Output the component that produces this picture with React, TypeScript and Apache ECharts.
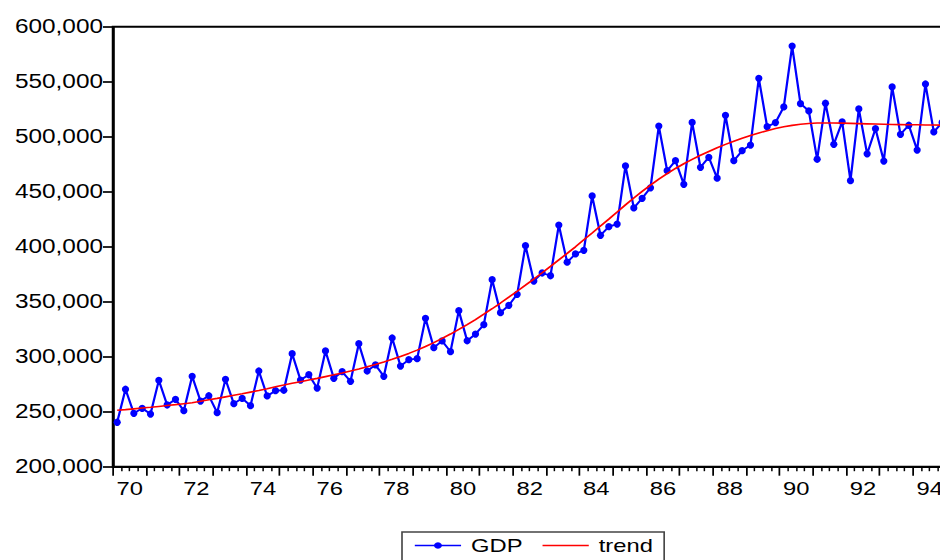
import React, { useEffect, useRef } from "react";
import * as echarts from "echarts";

// Quarterly observations 1970Q1 .. 1994Q4
const xLabels = ["70", "72", "74", "76", "78", "80", "82", "84", "86", "88", "90", "92", "94"];

const gdp = [
  240400, 270400, 248500, 253100, 247900, 278500, 256100, 261300, 250900, 282200,
  259700, 264500, 249100, 279400, 257300, 262200, 255500, 287000, 264300, 269100,
  269500, 302700, 278800, 283600, 271500, 305200, 280400, 286400, 277600, 311800,
  287000, 292500, 282200, 317000, 291500, 297300, 298200, 334900, 308200, 314300,
  304600, 341800, 314500, 320600, 329100, 370000, 340000, 346700, 356700, 400900,
  368800, 376100, 373600, 419700, 385900, 393400, 396700, 446100, 410400, 418200,
  420600, 473400, 435200, 444000, 453500, 509700, 469100, 478200, 456700, 513000,
  472200, 481300, 462300, 519400, 478200, 487300, 492400, 553100, 509100, 512800,
  527100, 582400, 530000, 523400, 479500, 530400, 493100, 513400, 460000, 525200,
  484400, 507300, 477900, 545200, 502200, 510400, 487900, 547900, 504300, 513000,
];

const trend = [
  251300, 251900, 252600, 253300, 254000, 254800, 255600, 256400, 257300, 258200,
  259500, 260800, 262100, 263500, 264900, 266300, 267800, 269300, 270900, 272600,
  274300, 275800, 277300, 278800, 280300, 281900, 283500, 285200, 287000, 288900,
  290900, 293000, 295200, 297600, 300200, 303000, 306000, 309300, 312800, 316600,
  320600, 324800, 329200, 333800, 338600, 343600, 348800, 354100, 359500, 365000,
  370600, 376300, 382100, 388000, 393900, 399900, 406300, 412500, 418800, 425100,
  431500, 438000, 444300, 450300, 456000, 461400, 466400, 471100, 475400, 479400,
  483100, 486600, 489900, 493000, 495900, 498600, 501100, 503400, 505500, 507400,
  509000, 510300, 511300, 512000, 512400, 512500, 512500, 512300, 512100, 511900,
  511700, 511500, 511300, 511100, 511000, 510900, 510800, 510700, 510600, 510500,
];

const yMin = 200000;
const yMax = 600000;
const yStep = 50000;

// The reference picture is horizontally stretched; we draw narrower and stretch with CSS.
const S = 1.25;
const FONT = "'Liberation Sans', Arial, sans-serif";

export default function App() {
  const ref = useRef<HTMLDivElement>(null);

  useEffect(() => {
    if (!ref.current) return;
    const chart = echarts.init(ref.current, undefined, { renderer: "svg" });
    const n = gdp.length;
    const gridLeft = 113 / S;
    const gridWidth = (n * 8.333) / S;

    chart.setOption({
      animation: false,
      backgroundColor: "#ffffff",
      grid: {
        left: gridLeft,
        top: 26.7,
        width: gridWidth,
        height: 440,
        containLabel: false,
        outerBoundsMode: "none",
        show: true,
        borderColor: "#000",
        borderWidth: 2,
        backgroundColor: "transparent",
      },
      legend: {
        left: 402 / S,
        top: 532,
        orient: "horizontal",
        selectedMode: false,
        padding: [4, 9, 6, 9.6],
        itemGap: 16,
        itemWidth: 37,
        itemHeight: 8,
        borderColor: "#444",
        borderWidth: 1.3,
        textStyle: { fontFamily: FONT, fontSize: 19, color: "#000", padding: [0, 0, 0, 3] },
        lineStyle: { width: 1.3 },
        data: [
          { name: "GDP" },
          { name: "trend", icon: "path://M0,0H37V1.4H0Z" },
        ],
      },
      xAxis: [
        {
          type: "value",
          position: "bottom",
          min: 0,
          max: n,
          interval: 4,
          axisLine: { show: true, onZero: false, lineStyle: { color: "#000", width: 2 } },
          axisTick: { show: true, length: 9, lineStyle: { color: "#000", width: 1.4 } },
          minorTick: { show: true, splitNumber: 4, length: 4.5, lineStyle: { color: "#000", width: 1.2 } },
          axisLabel: { show: false },
          splitLine: { show: false },
          minorSplitLine: { show: false },
        },
        {
          type: "value",
          position: "bottom",
          min: 0,
          max: n,
          interval: 2,
          axisLine: { show: false },
          axisTick: { show: false },
          splitLine: { show: false },
          axisLabel: {
            show: true,
            margin: 13,
            fontFamily: FONT,
            fontSize: 19,
            color: "#000",
            formatter: (v: number) => {
              const k = (v - 2) / 8;
              return Number.isInteger(k) && k >= 0 && k < xLabels.length ? xLabels[k] : "";
            },
          },
        },
      ],
      yAxis: {
        type: "value",
        min: yMin,
        max: yMax,
        interval: yStep,
        axisLine: { show: true, lineStyle: { color: "#000", width: 1.6 } },
        axisTick: { show: true, length: 8, lineStyle: { color: "#000", width: 1.7 } },
        splitLine: { show: false },
        axisLabel: {
          margin: 8,
          fontFamily: FONT,
          fontSize: 19.5,
          color: "#000",
          formatter: (v: number) => v.toLocaleString("en-US"),
        },
      },
      series: [
        {
          name: "GDP",
          type: "line",
          xAxisIndex: 0,
          data: gdp.map((v, i) => [i + 0.5, v]),
          symbol: "circle",
          symbolSize: [5.8, 7.2],
          showSymbol: true,
          color: "#0000FF",
          itemStyle: { color: "#0000FF" },
          lineStyle: { color: "#0000FF", width: 1.8 },
          z: 2,
        },
        {
          name: "trend",
          type: "line",
          xAxisIndex: 0,
          data: trend.map((v, i) => [i + 0.5, v]),
          symbol: "none",
          smooth: false,
          color: "#FF0000",
          lineStyle: { color: "#FF0000", width: 1.6 },
          z: 3,
        },
      ],
    });
    return () => chart.dispose();
  }, []);

  return (
    <div
      style={{
        position: "fixed",
        left: 0,
        top: 0,
        width: 940,
        height: 560,
        overflow: "hidden",
        background: "#fff",
      }}
    >
      <div
        ref={ref}
        style={{ width: 760, height: 560, transform: `scaleX(${S})`, transformOrigin: "0 0" }}
      />
    </div>
  );
}
